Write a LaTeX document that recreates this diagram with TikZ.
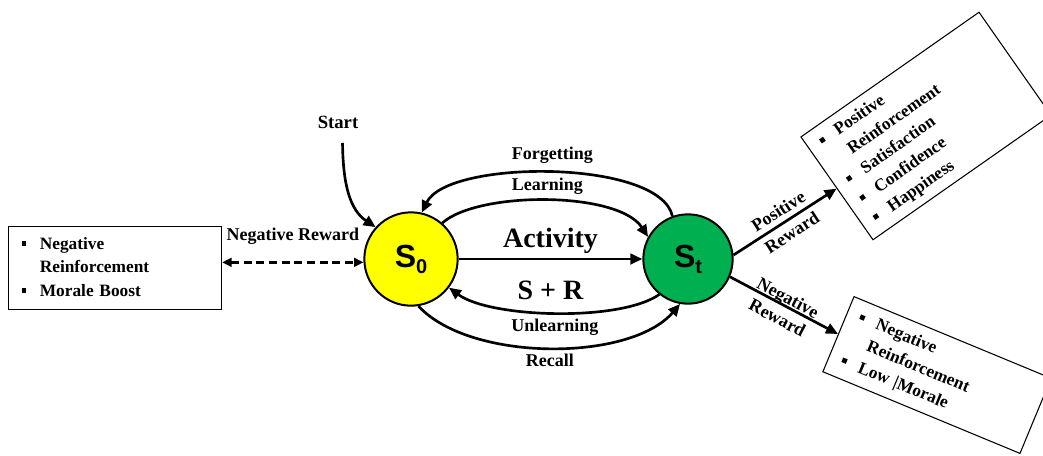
\documentclass[tikz,border=0pt]{standalone}
\usepackage{fontspec}
\setmainfont{Liberation Serif}
\newfontfamily\statefont{Liberation Sans}
\usepackage{tikz}
\usetikzlibrary{arrows.meta, positioning}
\definecolor{stateyellow}{RGB}{255,255,0}
\definecolor{stategreen}{RGB}{0,176,80}
\tikzstyle{state} = [circle, draw=black, line width=1.5pt, font=\statefont\bfseries\fontsize{24}{24}\selectfont]
\tikzstyle{listbox} = [rectangle, draw=black, line width=0.8pt, inner xsep=10pt, align=left, font=\bfseries\fontsize{13}{17.5}\selectfont]
\tikzstyle{edgetext} = [font=\bfseries\fontsize{13.5}{15}\selectfont]
\tikzstyle{bigtext} = [font=\bfseries\fontsize{21}{24}\selectfont]
\tikzstyle{arrow} = [line width=2pt, -{Triangle[length=9pt,width=8pt]}]
\tikzstyle{dasharrow} = [line width=2pt, dash pattern=on 6pt off 3.5pt, {Triangle[length=7pt,width=6.5pt]}-{Triangle[length=7pt,width=6.5pt]}]
\newcommand{\sqbullet}{\rule[0.2em]{3.6pt}{3.6pt}}

\begin{document}
\begin{tikzpicture}[x=0.75pt, y=-0.75pt]
\useasboundingbox (0,0) rectangle (1043,455);

% states
\node (s0) [state, fill=stateyellow, minimum size=70pt] at (411,259) {S\raisebox{-0.35ex}{\fontsize{15}{15}\selectfont 0}};
\node (st) [state, fill=stategreen, minimum size=67pt] at (688,259) {S\raisebox{-0.35ex}{\fontsize{15}{15}\selectfont t}};
\node (start) [font=\bfseries\fontsize{14}{16}\selectfont] at (338,122) {Start};

% reward boxes
\node (leftbox) [listbox, text width=140pt, minimum height=62pt] at (115,268) {%
\begin{tabular}{@{}l@{\hspace{10pt}}l@{}}
\sqbullet & Negative\\
 & Reinforcement\\
\sqbullet & Morale Boost
\end{tabular}};
\node (posbox) [listbox, rotate=35, text width=143pt, minimum height=93pt] at (926,126) {%
\begin{tabular}{@{}l@{\hspace{10pt}}l@{}}
\sqbullet & Positive\\
 & Reinforcement\\
\sqbullet & Satisfaction\\
\sqbullet & Confidence\\
\sqbullet & Happiness
\end{tabular}};
\node (negbox) [listbox, rotate=-22.5, text width=140pt, minimum height=61pt] at (937,375) {%
\begin{tabular}{@{}l@{\hspace{10pt}}l@{}}
\sqbullet & Negative\\
 & Reinforcement\\
\sqbullet & Low |Morale
\end{tabular}};

% transitions
\draw [arrow] (s0) -- node[bigtext, above] {Activity} node[bigtext, below=12.5pt] {S + R} (st);
\draw [arrow] (st.110) .. controls (660,159) and (448,159) .. (s0.77) node[edgetext, pos=0.5, above=3pt] {Forgetting};
\draw [arrow] (s0.49) .. controls (478,191) and (618,191) .. (st.151) node[edgetext, pos=0.5, above] {Learning};
\draw [arrow] (st.231) .. controls (620,322) and (490,318) .. (s0.-37) node[edgetext, pos=0.5, below] {Unlearning};
\draw [arrow] (s0.-81) .. controls (470,362) and (630,362) .. (st.-100) node[edgetext, pos=0.5, below] {Recall};
\draw [arrow] ([xshift=3.4pt, yshift=-7.5pt]start.south) .. controls (343,185) and (350,210) .. (s0.138);

% rewards
\draw [dasharrow] (s0.184 -| leftbox.east) -- node[edgetext, above=9pt] {Negative Reward} (s0.184);
\draw [arrow] (st.5) -- node[edgetext, sloped, align=center] {Positive\\[4pt]Reward} (posbox.west);
\draw [arrow] (st.-23) -- node[edgetext, sloped, align=center, yshift=-2pt] {Negative\\[2pt]Reward} (negbox.west);
\end{tikzpicture}
\end{document}
